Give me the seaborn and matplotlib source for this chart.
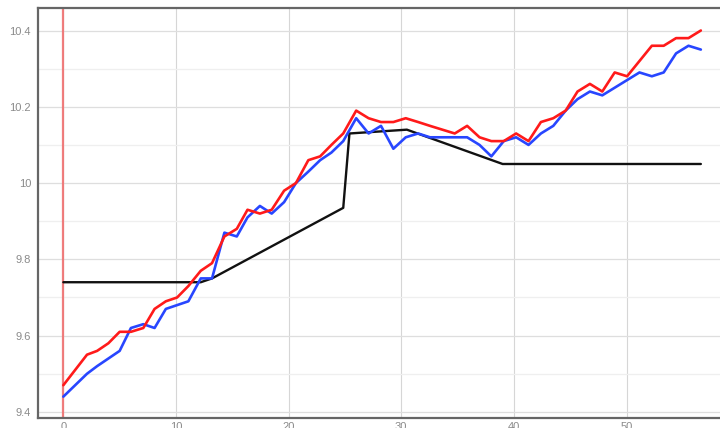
import matplotlib
matplotlib.use("Agg")
import matplotlib.pyplot as plt
import pandas as pd
import seaborn as sns
from matplotlib.ticker import MultipleLocator, FuncFormatter

# ===================== DATA =====================
x_vals = [0, 1.05, 2.1, 3.0, 4.0, 5.0, 6.0, 7.1, 8.1, 9.1, 10.1, 11.1, 12.2, 13.2,
          14.3, 15.4, 16.35, 17.45, 18.5, 19.6, 20.65, 21.75, 22.8, 23.8, 24.85,
          26.0, 27.1, 28.2, 29.3, 30.4, 31.5, 32.55, 33.65, 34.75, 35.85, 36.95,
          38.0, 39.1, 40.2, 41.3, 42.4, 43.5, 44.6, 45.65, 46.75, 47.85, 48.95,
          50.05, 51.15, 52.25, 53.3, 54.4, 55.5, 56.6]

red_vals = [9.47, 9.51, 9.55, 9.56, 9.58, 9.61, 9.61, 9.62, 9.67, 9.69, 9.70, 9.73,
            9.77, 9.79, 9.86, 9.88, 9.93, 9.92, 9.93, 9.98, 10.00, 10.06, 10.07,
            10.10, 10.13, 10.19, 10.17, 10.16, 10.16, 10.17, 10.16, 10.15, 10.14,
            10.13, 10.15, 10.12, 10.11, 10.11, 10.13, 10.11, 10.16, 10.17, 10.19,
            10.24, 10.26, 10.24, 10.29, 10.28, 10.32, 10.36, 10.36, 10.38, 10.38,
            10.40]

blue_vals = [9.44, 9.47, 9.50, 9.52, 9.54, 9.56, 9.62, 9.63, 9.62, 9.67, 9.68, 9.69,
             9.75, 9.75, 9.87, 9.86, 9.91, 9.94, 9.92, 9.95, 10.00, 10.03, 10.06,
             10.08, 10.11, 10.17, 10.13, 10.15, 10.09, 10.12, 10.13, 10.12, 10.12,
             10.12, 10.12, 10.10, 10.07, 10.11, 10.12, 10.10, 10.13, 10.15, 10.19,
             10.22, 10.24, 10.23, 10.25, 10.27, 10.29, 10.28, 10.29, 10.34, 10.36,
             10.35]

black_x = [0, 12.2, 13.2, 24.85, 25.4, 30.5, 39.0, 56.6]
black_vals = [9.74, 9.74, 9.75, 9.935, 10.13, 10.14, 10.05, 10.05]

marker_x = 0

x_ticks = [0, 10, 20, 30, 40, 50]
y_ticks = [9.4, 9.6, 9.8, 10.0, 10.2, 10.4]

# ===================== PLOT =====================
sns.set_style("white")
plt.rcParams["font.family"] = ["Liberation Sans", "DejaVu Sans"]

series = pd.DataFrame({"x": x_vals, "red": red_vals, "blue": blue_vals})
trend = pd.DataFrame({"x": black_x, "y": black_vals})

fig = plt.figure(figsize=(7.2, 4.28), dpi=100)
ax = fig.add_axes([38 / 720, 10 / 428, 682 / 720, 410 / 428])

# grid
ax.xaxis.set_major_locator(MultipleLocator(10))
ax.yaxis.set_major_locator(MultipleLocator(0.2))
ax.yaxis.set_minor_locator(MultipleLocator(0.1))
ax.grid(which="major", axis="x", color="#d6d6d6", linewidth=0.8)
ax.grid(which="major", axis="y", color="#dedede", linewidth=0.9)
ax.grid(which="minor", axis="y", color="#efefef", linewidth=0.9)
ax.set_axisbelow(True)

ax.axvline(marker_x, color="#f07070", linewidth=1.6, alpha=0.9, zorder=2)

sns.lineplot(data=trend, x="x", y="y", ax=ax, color="#111111", linewidth=1.7,
             zorder=3, legend=False)
sns.lineplot(data=series, x="x", y="blue", ax=ax, color="#2846ff", linewidth=1.9,
             zorder=4, legend=False)
sns.lineplot(data=series, x="x", y="red", ax=ax, color="#ff1a1a", linewidth=1.9,
             zorder=5, legend=False)

ax.set_xlim(-2.25, 58.3)
ax.set_ylim(9.384, 10.459)
ax.set_xticks(x_ticks)
ax.set_yticks(y_ticks)
ax.yaxis.set_major_formatter(FuncFormatter(lambda v, _: f"{v:g}"))
ax.set_xlabel("")
ax.set_ylabel("")

ax.tick_params(axis="both", which="both", length=0, labelsize=8,
               labelcolor="#8a8a8a")
ax.tick_params(axis="y", pad=5)
ax.tick_params(axis="x", pad=3)

for side in ["left", "top", "bottom"]:
    ax.spines[side].set_color("#666666")
    ax.spines[side].set_linewidth(1.6)
ax.spines["right"].set_visible(False)

fig.savefig("out.png", dpi=100)
plt.close(fig)
